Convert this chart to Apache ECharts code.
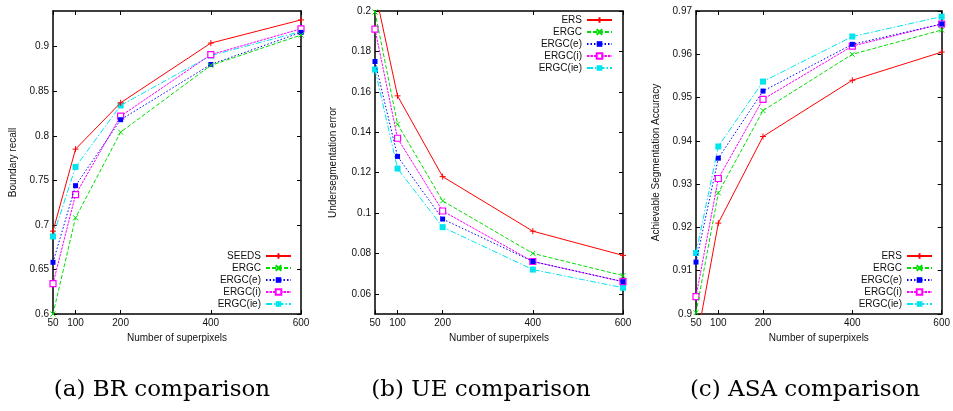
<!DOCTYPE html>
<html>
<head>
<meta charset="utf-8">
<script src="https://cdn.jsdelivr.net/npm/echarts@6/dist/echarts.min.js"></script>
<style>
  html, body { margin: 0; padding: 0; background: #fff; }
  #chart { width: 953px; height: 411px; }
</style>
</head>
<body>
<div id="chart"></div>
<script>
// Superpixel counts shared by all three panels
const superpixels = [50, 100, 200, 400, 600];
const xTicks = [50, 100, 200, 400, 600];

// (a) Boundary recall
const brNames = ['SEEDS', 'ERGC', 'ERGC(e)', 'ERGC(i)', 'ERGC(ie)'];
const brSEEDS   = [0.693, 0.785, 0.837, 0.904, 0.930];
const brERGC    = [0.600, 0.708, 0.804, 0.879, 0.913];
const brERGCe   = [0.658, 0.744, 0.818, 0.880, 0.916];
const brERGCi   = [0.634, 0.734, 0.822, 0.891, 0.920];
const brERGCie  = [0.687, 0.765, 0.834, 0.890, 0.917];
const brTicks   = [0.6, 0.65, 0.7, 0.75, 0.8, 0.85, 0.9];

// (b) Undersegmentation error
const ueNames = ['ERS', 'ERGC', 'ERGC(e)', 'ERGC(i)', 'ERGC(ie)'];
const ueERS     = [0.210, 0.158, 0.118, 0.091, 0.079];
const ueERGC    = [0.1995, 0.144, 0.106, 0.080, 0.069];
const ueERGCe   = [0.175, 0.128, 0.097, 0.076, 0.066];
const ueERGCi   = [0.191, 0.137, 0.101, 0.076, 0.066];
const ueERGCie  = [0.171, 0.122, 0.093, 0.072, 0.063];
const ueTicks   = [0.06, 0.08, 0.1, 0.12, 0.14, 0.16, 0.18, 0.2];

// (c) Achievable segmentation accuracy
const asaNames = ['ERS', 'ERGC', 'ERGC(e)', 'ERGC(i)', 'ERGC(ie)'];
const asaERS    = [0.893, 0.921, 0.941, 0.954, 0.9605];
const asaERGC   = [0.9003, 0.928, 0.947, 0.960, 0.9656];
const asaERGCe  = [0.912, 0.936, 0.9515, 0.9623, 0.967];
const asaERGCi  = [0.904, 0.9313, 0.9496, 0.9619, 0.967];
const asaERGCie = [0.9141, 0.9387, 0.9537, 0.9641, 0.9687];
const asaTicks  = [0.9, 0.91, 0.92, 0.93, 0.94, 0.95, 0.96, 0.97];

const captions = ['(a) BR comparison', '(b) UE comparison', '(c) ASA comparison'];

const FONT = "'Liberation Sans', Arial, sans-serif";

// gnuplot-like line styles: colour, dash pattern and point type per method slot
const styles = [
  { color: '#ff0000', type: 'solid',   symbol: 'path://M0,5L10,5M5,0L5,10', size: 6, fill: '#ff0000', bw: 1 },
  { color: '#00dd00', type: [4, 2],    symbol: 'path://M0,0L10,10M10,0L0,10', size: 5, fill: '#00dd00', bw: 1 },
  { color: '#0000ff', type: [1.5, 2],  symbol: 'rect', size: 5, fill: '#0000ff', bw: 0 },
  { color: '#ff00ff', type: [2.5, 1],  symbol: 'rect', size: 6, fill: '#ffffff', bw: 1.2 },
  { color: '#00e5ee', type: [6, 2, 1.5, 2], symbol: 'rect', size: 6, fill: '#00e5ee', bw: 0 }
];

const panels = [
  { names: brNames,  data: [brSEEDS, brERGC, brERGCe, brERGCi, brERGCie], yMin: 0.6,  yMax: 0.94, yTicks: brTicks,
    yName: 'Boundary recall', nameGap: 35, left: 53, legendTop: 251, legendRight: 661 },
  { names: ueNames,  data: [ueERS, ueERGC, ueERGCe, ueERGCi, ueERGCie], yMin: 0.05, yMax: 0.2, yTicks: ueTicks,
    yName: 'Undersegmentation error', nameGap: 37, left: 375, legendTop: 15, legendRight: 340 },
  { names: asaNames, data: [asaERS, asaERGC, asaERGCe, asaERGCi, asaERGCie], yMin: 0.9, yMax: 0.97, yTicks: asaTicks,
    yName: 'Achievable Segmentation Accuracy', nameGap: 35, left: 696, legendTop: 251, legendRight: 20 }
];

const grid = [], xAxis = [], yAxis = [], series = [], legend = [], graphic = [];
const axisLine = { show: true, onZero: false, lineStyle: { color: '#000', width: 1.5 } };
const tickStyle = { lineStyle: { color: '#000', width: 1 } };

panels.forEach((p, i) => {
  grid.push({ left: p.left, top: 11, width: 248, height: 303, containLabel: false });
  const xBase = { type: 'value', gridIndex: i, min: 50, max: 600, splitLine: { show: false }, axisLine };
  xAxis.push(Object.assign({}, xBase, {
    position: 'bottom',
    name: 'Number of superpixels', nameLocation: 'middle', nameGap: 16,
    nameTextStyle: { fontFamily: FONT, fontSize: 10, color: '#111' },
    axisTick: Object.assign({ inside: true, length: 4, customValues: xTicks }, tickStyle),
    axisLabel: { customValues: xTicks, fontFamily: FONT, fontSize: 10, color: '#111', margin: 4 }
  }));
  xAxis.push(Object.assign({}, xBase, {
    position: 'top',
    axisTick: Object.assign({ inside: true, length: 4, customValues: xTicks }, tickStyle),
    axisLabel: { show: false }
  }));
  const yBase = { type: 'value', gridIndex: i, min: p.yMin, max: p.yMax, splitLine: { show: false }, axisLine };
  yAxis.push(Object.assign({}, yBase, {
    position: 'left',
    name: p.yName, nameLocation: 'middle', nameGap: p.nameGap, nameRotate: 90,
    nameTextStyle: { fontFamily: FONT, fontSize: 10, color: '#111' },
    axisTick: Object.assign({ inside: true, length: 4, customValues: p.yTicks }, tickStyle),
    axisLabel: { customValues: p.yTicks, fontFamily: FONT, fontSize: 10, color: '#111', margin: 4 }
  }));
  yAxis.push(Object.assign({}, yBase, {
    position: 'right',
    axisTick: Object.assign({ inside: true, length: 4, customValues: p.yTicks }, tickStyle),
    axisLabel: { show: false }
  }));

  p.names.forEach((name, k) => {
    const s = styles[k];
    series.push({
      type: 'line',
      name: name,
      xAxisIndex: 2 * i,
      yAxisIndex: 2 * i,
      data: superpixels.map((x, j) => [x, p.data[k][j]]),
      clip: true,
      symbol: s.symbol,
      symbolSize: s.size,
      showSymbol: true,
      lineStyle: { color: s.color, width: 1, type: s.type },
      itemStyle: { color: s.fill, borderColor: s.color, borderWidth: s.bw },
      emphasis: { disabled: true },
      z: 2 + (4 - k) * 0.1
    });
  });

  legend.push({
    data: p.names,
    orient: 'vertical',
    align: 'right',
    right: p.legendRight,
    top: p.legendTop,
    padding: 0,
    itemWidth: 25,
    itemHeight: 7,
    itemGap: 2,
    selectedMode: false,
    textStyle: { fontFamily: FONT, fontSize: 10, color: '#111', lineHeight: 10 }
  });
});

const captionCenters = [162, 481, 805];
captions.forEach((t, i) => {
  graphic.push({
    type: 'text',
    x: captionCenters[i],
    y: 390,
    style: {
      text: t,
      fill: '#000',
      font: "23px 'DejaVu Serif', serif",
      align: 'center',
      verticalAlign: 'middle'
    }
  });
});

const chart = echarts.init(document.getElementById('chart'), null, { renderer: 'canvas' });
chart.setOption({
  animation: false,
  backgroundColor: '#fff',
  grid, xAxis, yAxis, series, legend, graphic
});
</script>
</body>
</html>
